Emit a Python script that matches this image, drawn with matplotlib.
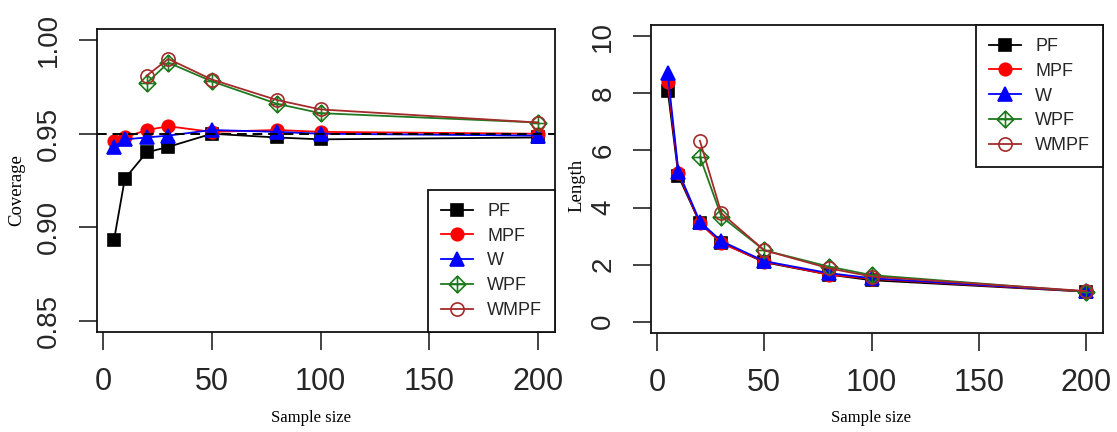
import numpy as np
import matplotlib
matplotlib.use("Agg")
import matplotlib.pyplot as plt
from matplotlib.path import Path

# ---------------- data ----------------
sample_size = [5, 10, 20, 30, 50, 80, 100, 200]
series_names = ["PF", "MPF", "W", "WPF", "WMPF"]

cov_PF = [0.893, 0.926, 0.940, 0.943, 0.950, 0.948, 0.947, 0.948]
cov_MPF = [0.946, 0.948, 0.952, 0.954, 0.951, 0.952, 0.951, 0.950]
cov_W = [0.943, 0.947, 0.948, 0.949, 0.952, 0.951, 0.950, 0.949]
cov_WPF = [np.nan, np.nan, 0.977, 0.988, 0.978, 0.966, 0.961, 0.956]
cov_WMPF = [np.nan, np.nan, 0.981, 0.990, 0.979, 0.968, 0.963, 0.956]
nominal = 0.95

len_PF = [8.10, 5.10, 3.45, 2.77, 2.08, 1.65, 1.45, 1.05]
len_MPF = [8.40, 5.20, 3.45, 2.75, 2.10, 1.65, 1.50, 1.05]
len_W = [8.70, 5.25, 3.50, 2.82, 2.12, 1.70, 1.52, 1.06]
len_WPF = [np.nan, np.nan, 5.78, 3.68, 2.50, 1.93, 1.63, 1.05]
len_WMPF = [np.nan, np.nan, 6.34, 3.80, 2.50, 1.87, 1.58, 1.07]

x_ticks = [0, 50, 100, 150, 200]
cov_ticks = [0.85, 0.90, 0.95, 1.00]
cov_ticklabels = ["0.85", "0.90", "0.95", "1.00"]
len_ticks = [0, 2, 4, 6, 8, 10]
len_ticklabels = ["0", "2", "4", "6", "8", "10"]

# ---------------- styles ----------------
diamond_plus = Path(
    [(0, 1), (1, 0), (0, -1), (-1, 0), (0, 1), (0, 1), (0, -1), (-1, 0), (1, 0)],
    [Path.MOVETO, Path.LINETO, Path.LINETO, Path.LINETO, Path.CLOSEPOLY,
     Path.MOVETO, Path.LINETO, Path.MOVETO, Path.LINETO],
)
styles = {
    "PF": dict(color="black", marker="s", ms=8.6, mfc="black", mec="black"),
    "MPF": dict(color="red", marker="o", ms=9.0, mfc="red", mec="red"),
    "W": dict(color="blue", marker="^", ms=9.5, mfc="blue", mec="blue"),
    "WPF": dict(color="#1f7a1f", marker=diamond_plus, ms=12, mfc="none", mec="#1f7a1f"),
    "WMPF": dict(color="#a52a2a", marker="o", ms=9.5, mfc="none", mec="#a52a2a"),
}

SANS = ["Liberation Sans", "Arial", "DejaVu Sans"]
SERIF = ["Liberation Serif", "DejaVu Serif"]
TXT = "#262626"

W_PX, H_PX = 1117, 432
fig = plt.figure(figsize=(W_PX / 100, H_PX / 100), dpi=100)
fig.patch.set_facecolor("white")


def px_axes(x0, x1, ytop, ybot):
    return fig.add_axes([x0 / W_PX, 1 - ybot / H_PX, (x1 - x0) / W_PX, (ybot - ytop) / H_PX])


def style_axes(ax, yticks, yticklabels, ylim):
    ax.set_xlim(-2.8, 207.8)
    ax.set_ylim(*ylim)
    ax.set_xticks(x_ticks)
    ax.set_xticklabels([str(t) for t in x_ticks])
    ax.set_yticks(yticks)
    ax.set_yticklabels(yticklabels)
    for sp in ax.spines.values():
        sp.set_linewidth(1.3)
        sp.set_color("#111111")
    ax.tick_params(axis="both", direction="out", length=13, width=1.1, color="#111111")
    ax.tick_params(axis="x", pad=12)
    ax.tick_params(axis="y", pad=12, labelrotation=90)
    for lab in ax.get_xticklabels():
        lab.set_fontfamily(SANS)
        lab.set_fontsize(22)
        lab.set_color(TXT)
    for lab in ax.get_yticklabels():
        lab.set_fontfamily(SANS)
        lab.set_fontsize(20)
        lab.set_color(TXT)
        lab.set_va("center")


def plot_series(ax, data):
    handles = []
    for name, vals in zip(series_names, data):
        st = styles[name]
        h, = ax.plot(sample_size, vals, color=st["color"], lw=1.3, marker=st["marker"],
                     ms=st["ms"], mfc=st["mfc"], mec=st["mec"], mew=1.2, label=name)
        handles.append(h)
    return handles


def add_legend(ax, handles, loc):
    leg = ax.legend(handles=handles, loc=loc, borderaxespad=0, frameon=True, fancybox=False,
                    framealpha=1, edgecolor="#111111", handlelength=1.8, handletextpad=0.75,
                    labelspacing=0.43, borderpad=0.72, numpoints=1,
                    prop={"family": SANS, "size": 13})
    leg.get_frame().set_linewidth(1.3)
    for t in leg.get_texts():
        t.set_color(TXT)
    return leg


# ---------------- left panel: coverage ----------------
ax1 = px_axes(97, 555, 29, 332)
h1 = plot_series(ax1, [cov_PF, cov_MPF, cov_W, cov_WPF, cov_WMPF])
ax1.axhline(nominal, color="black", lw=1.4, ls=(0, (5, 3)))
style_axes(ax1, cov_ticks, cov_ticklabels, (0.844, 1.006))
add_legend(ax1, h1, "lower right")

# ---------------- right panel: length ----------------
ax2 = px_axes(651, 1103, 25, 333)
h2 = plot_series(ax2, [len_PF, len_MPF, len_W, len_WPF, len_WMPF])
style_axes(ax2, len_ticks, len_ticklabels, (-0.4, 10.4))
add_legend(ax2, h2, "upper right")

# ---------------- axis titles ----------------
fig.text(311 / W_PX, 1 - 418 / H_PX, "Sample size", ha="center", va="center",
         family=SERIF, fontsize=12, color="black")
fig.text(871 / W_PX, 1 - 418 / H_PX, "Sample size", ha="center", va="center",
         family=SERIF, fontsize=12, color="black")
fig.text(17 / W_PX, 1 - 190 / H_PX, "Coverage", ha="center", va="center", rotation=90,
         family=SERIF, fontsize=13.5, color="black")
fig.text(577 / W_PX, 1 - 185 / H_PX, "Length", ha="center", va="center", rotation=90,
         family=SERIF, fontsize=13.5, color="black")

fig.savefig("out.png", dpi=100, facecolor="white")
